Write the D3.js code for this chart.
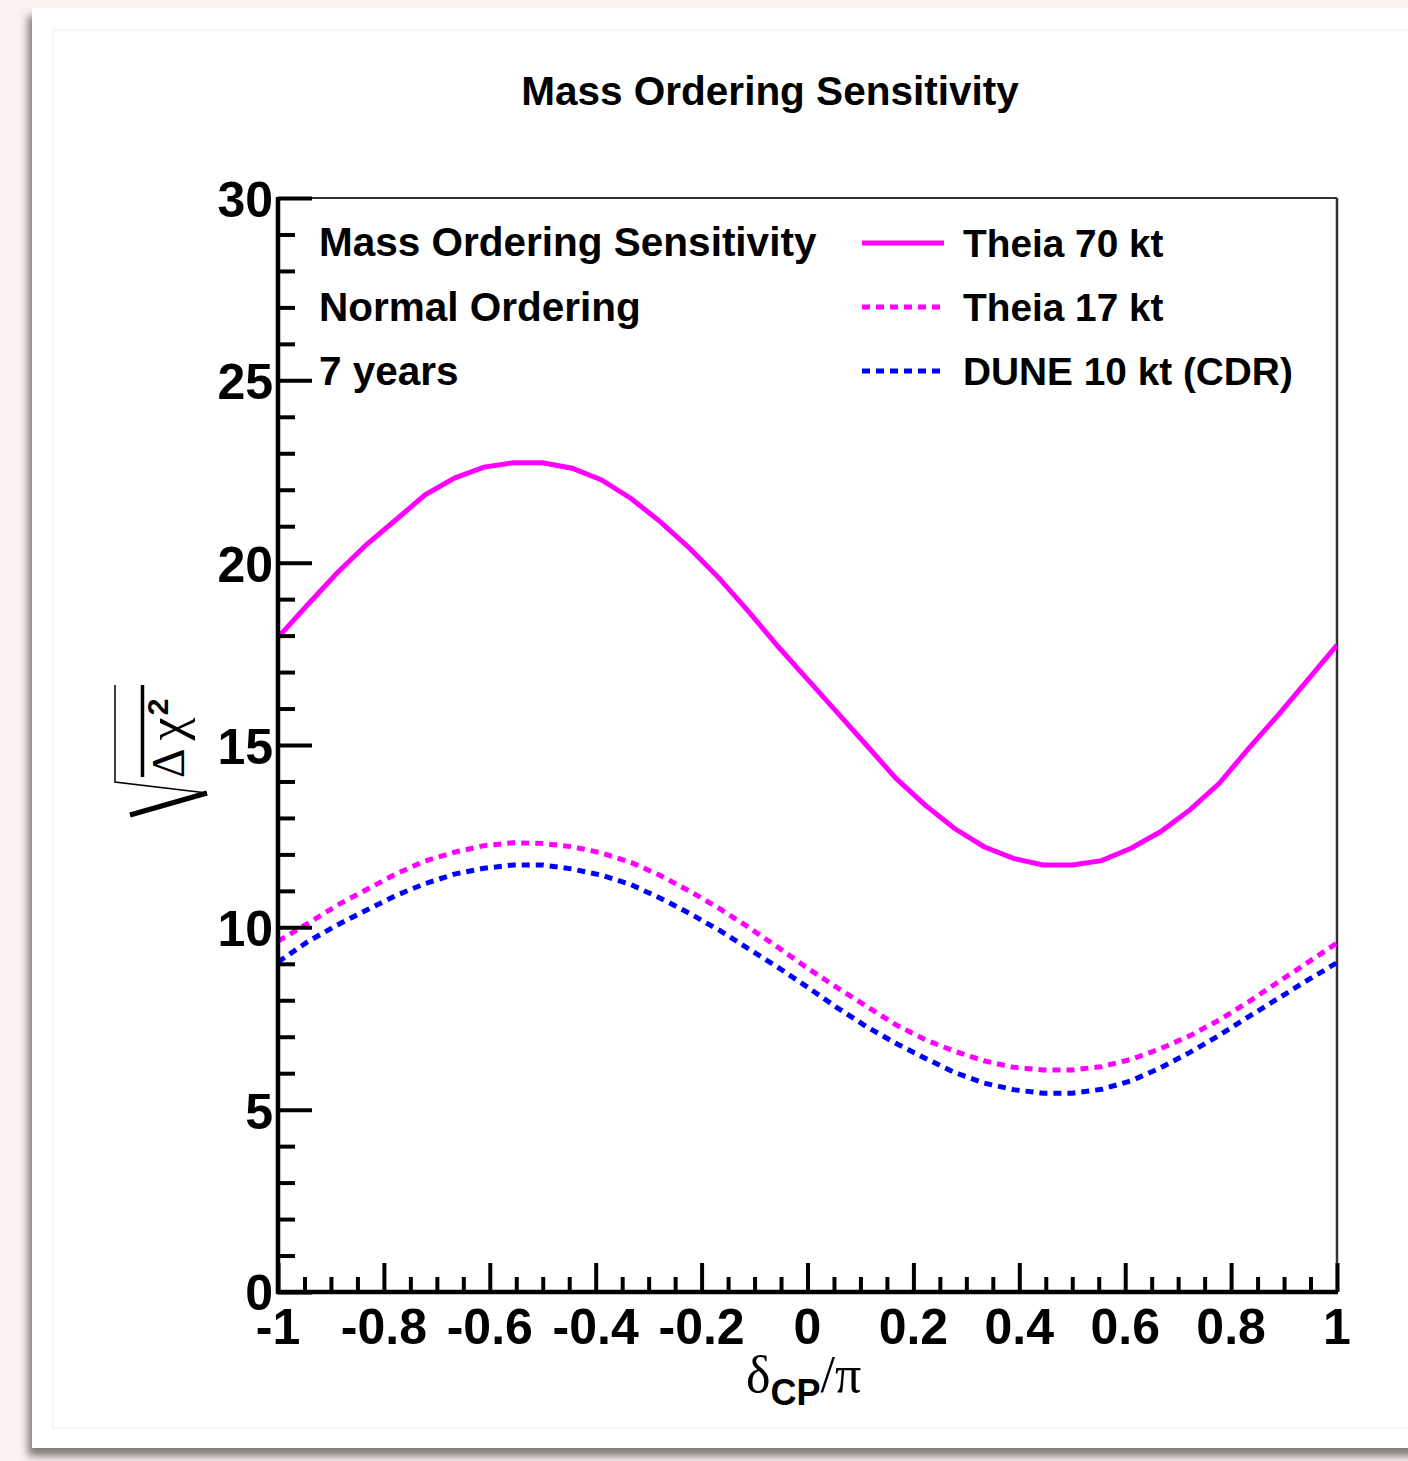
<!DOCTYPE html>
<html>
<head>
<meta charset="utf-8">
<script src="https://cdn.jsdelivr.net/npm/d3@7"></script>
<style>
  html, body { margin: 0; padding: 0; background: #fcf3f1; }
  svg { display: block; }
  text { font-family: "Liberation Sans", Arial, Helvetica, sans-serif; font-weight: bold; fill: #000; }
  .greek { font-family: "Liberation Serif", "DejaVu Serif", serif; font-weight: normal; }
</style>
</head>
<body>
<svg id="chart" width="1408" height="1461"></svg>
<script>
// delta_CP scan, in degrees (converted to units of pi below)
var deltaDeg = [-180, -170, -160, -150, -140, -130, -120, -110, -100, -90, -80, -70, -60, -50, -40, -30, -20, -10,
  0, 10, 20, 30, 40, 50, 60, 70, 80, 90, 100, 110, 120, 130, 140, 150, 160, 170, 180];

// sqrt(delta chi2)
var theia70 = [17.95, 18.84, 19.71, 20.49, 21.17, 21.86, 22.32, 22.62, 22.74, 22.74, 22.59, 22.27, 21.76, 21.12, 20.39, 19.57, 18.66, 17.70,
  16.80, 15.90, 15.00, 14.09, 13.35, 12.71, 12.21, 11.89, 11.71, 11.71, 11.83, 12.17, 12.62, 13.22, 13.95, 14.91, 15.82, 16.78, 17.74];
var theia17 = [9.62, 10.10, 10.60, 11.03, 11.46, 11.82, 12.06, 12.24, 12.32, 12.30, 12.21, 12.04, 11.78, 11.42, 10.99, 10.52, 10.00, 9.45,
  8.88, 8.35, 7.84, 7.33, 6.92, 6.60, 6.34, 6.16, 6.09, 6.09, 6.18, 6.38, 6.67, 7.03, 7.46, 7.96, 8.50, 9.03, 9.57];
var dune10 = [9.05, 9.60, 10.06, 10.47, 10.87, 11.20, 11.46, 11.62, 11.71, 11.71, 11.60, 11.43, 11.17, 10.80, 10.38, 9.92, 9.41, 8.90,
  8.36, 7.80, 7.28, 6.82, 6.41, 6.02, 5.73, 5.55, 5.45, 5.45, 5.56, 5.79, 6.15, 6.57, 7.04, 7.55, 8.05, 8.55, 9.03];

var seriesNames = ['Theia 70 kt', 'Theia 17 kt', 'DUNE 10 kt (CDR)'];
var infoLines = ['Mass Ordering Sensitivity', 'Normal Ordering', '7 years'];
var xTickValues = [-1, -0.8, -0.6, -0.4, -0.2, 0, 0.2, 0.4, 0.6, 0.8, 1];
var yTickValues = [0, 5, 10, 15, 20, 25, 30];

var series = [
  { name: seriesNames[0], values: theia70, color: '#ff00ff', dash: null },
  { name: seriesNames[1], values: theia17, color: '#ff00ff', dash: '8,6' },
  { name: seriesNames[2], values: dune10, color: '#0000ff', dash: '8,6' }
];

var svg = d3.select('#chart');

// page card with a soft shadow (screenshot look)
var defs = svg.append('defs');
var shadow = defs.append('filter').attr('id', 'cardShadow')
  .attr('x', '-5%').attr('y', '-5%').attr('width', '110%').attr('height', '110%');
shadow.append('feDropShadow')
  .attr('dx', -4).attr('dy', 8).attr('stdDeviation', 4)
  .attr('flood-color', '#000').attr('flood-opacity', 0.5);

svg.append('rect')
  .attr('x', 32).attr('y', 8).attr('width', 1420).attr('height', 1440)
  .attr('fill', '#fff').attr('filter', 'url(#cardShadow)');
svg.append('rect')
  .attr('x', 53).attr('y', 30).attr('width', 1400).attr('height', 1398)
  .attr('fill', 'none').attr('stroke', '#ececec').attr('stroke-width', 1);

// frame
var margin = { top: 198, right: 71, bottom: 169, left: 278 };
var width = 1408 - margin.left - margin.right,
  height = 1461 - margin.top - margin.bottom;

var x = d3.scaleLinear().domain([-1, 1]).range([0, width]);
var y = d3.scaleLinear().domain([0, 30]).range([height, 0]);

var g = svg.append('g')
  .attr('transform', 'translate(' + margin.left + ',' + margin.top + ')');

g.append('defs').append('clipPath').attr('id', 'plotClip')
  .append('rect').attr('x', 0).attr('y', 0).attr('width', width).attr('height', height);

// top and right frame lines are thin
g.append('line').attr('x1', 0).attr('x2', width).attr('y1', 0).attr('y2', 0)
  .attr('stroke', '#333').attr('stroke-width', 2);
g.append('line').attr('x1', width).attr('x2', width).attr('y1', 0).attr('y2', height)
  .attr('stroke', '#333').attr('stroke-width', 2.5);

// curves
var line = d3.line()
  .x(function (d, i) { return x(deltaDeg[i] / 180); })
  .y(function (d) { return y(d); });

g.append('g').attr('clip-path', 'url(#plotClip)')
  .selectAll('path.curve')
  .data(series)
  .enter().append('path')
  .attr('class', 'curve')
  .attr('fill', 'none')
  .attr('stroke', function (d) { return d.color; })
  .attr('stroke-width', 5)
  .attr('stroke-dasharray', function (d) { return d.dash; })
  .attr('d', function (d) { return line(d.values); });

// x axis: major every 0.2, minor every 0.05, ticks pointing up
var xAxis = d3.axisBottom(x)
  .tickValues(d3.range(-1, 1.0001, 0.05))
  .tickSize(0)
  .tickFormat('');
var xAxisG = g.append('g').attr('transform', 'translate(0,' + height + ')').call(xAxis);
xAxisG.select('.domain').remove();
xAxisG.selectAll('.tick line')
  .attr('y2', function (d) {
    var isMajor = Math.abs(Math.round(d * 5) - d * 5) < 1e-6;
    return isMajor ? -29 : -15;
  })
  .attr('stroke', '#000').attr('stroke-width', 4);

g.selectAll('text.xlab')
  .data(xTickValues)
  .enter().append('text')
  .attr('class', 'xlab')
  .attr('x', function (d) { return x(d); })
  .attr('y', height + 52)
  .attr('text-anchor', 'middle')
  .style('font-size', '50px')
  .text(function (d) { return d3.format('')(d).replace('−', '-'); });

// y axis: major every 5, minor every 1, ticks pointing right
var yAxis = d3.axisLeft(y)
  .tickValues(d3.range(0, 30.0001, 1))
  .tickSize(0)
  .tickFormat('');
var yAxisG = g.append('g').call(yAxis);
yAxisG.select('.domain').remove();
yAxisG.selectAll('.tick line')
  .attr('x2', function (d) { return d % 5 === 0 ? 34 : 17; })
  .attr('stroke', '#000').attr('stroke-width', 4);

g.selectAll('text.ylab')
  .data(yTickValues)
  .enter().append('text')
  .attr('class', 'ylab')
  .attr('x', -5)
  .attr('y', function (d) { return y(d) + (d === 0 ? 18 : 19); })
  .attr('text-anchor', 'end')
  .style('font-size', '50px')
  .text(function (d) { return d; });

// thick left and bottom axis lines
g.append('line').attr('x1', 0).attr('x2', 0).attr('y1', -1).attr('y2', height + 2)
  .attr('stroke', '#000').attr('stroke-width', 4.5);
g.append('line').attr('x1', -2).attr('x2', width + 1).attr('y1', height).attr('y2', height)
  .attr('stroke', '#000').attr('stroke-width', 4.5);

// title
svg.append('text')
  .attr('x', 770).attr('y', 105)
  .attr('text-anchor', 'middle')
  .style('font-size', '40.5px')
  .text(infoLines[0]);

// info text in the plot
g.selectAll('text.info')
  .data(infoLines)
  .enter().append('text')
  .attr('class', 'info')
  .attr('x', 41)
  .attr('y', function (d, i) { return 58 + i * 64.5; })
  .style('font-size', '40.5px')
  .text(function (d) { return d; });

// legend
var legend = g.selectAll('g.legend')
  .data(series)
  .enter().append('g')
  .attr('class', 'legend')
  .attr('transform', function (d, i) { return 'translate(584,' + (45 + i * 64) + ')'; });

legend.append('line')
  .attr('x1', 0).attr('x2', 82).attr('y1', 0).attr('y2', 0)
  .attr('stroke', function (d) { return d.color; })
  .attr('stroke-width', 5)
  .attr('stroke-dasharray', function (d) { return d.dash; });

legend.append('text')
  .attr('x', 101).attr('y', 14)
  .style('font-size', '38.8px')
  .text(function (d) { return d.name; });

// x axis title: delta_CP / pi
var xTitle = svg.append('text')
  .attr('x', 746).attr('y', 1392)
  .style('font-size', '52px');
xTitle.append('tspan').attr('class', 'greek').text('δ');
xTitle.append('tspan').attr('dy', 13).style('font-size', '36px').text('CP');
xTitle.append('tspan').attr('class', 'greek').attr('dy', -13).text('/π');

// y axis title: sqrt(delta chi2), radical drawn by hand
var rad = svg.append('g').attr('fill', 'none').attr('stroke', '#000');
rad.append('path').attr('d', 'M115,685 L115,782 L207,793').attr('stroke-width', 1.5);
rad.append('path').attr('d', 'M142.5,685 L142.5,777').attr('stroke-width', 3.5);
rad.append('path').attr('d', 'M130,815 L207,793').attr('stroke-width', 5);

var yTitle = svg.append('text')
  .attr('transform', 'translate(184,778) rotate(-90)')
  .attr('class', 'greek')
  .style('font-size', '46px');
yTitle.append('tspan').text('Δ');
yTitle.append('tspan').attr('dx', 8).style('font-size', '52px').text('χ');
yTitle.append('tspan').attr('dx', 2).attr('dy', -16).style('font-size', '30px').style('font-family', 'Liberation Sans').style('font-weight', 'bold').text('2');
</script>
</body>
</html>
